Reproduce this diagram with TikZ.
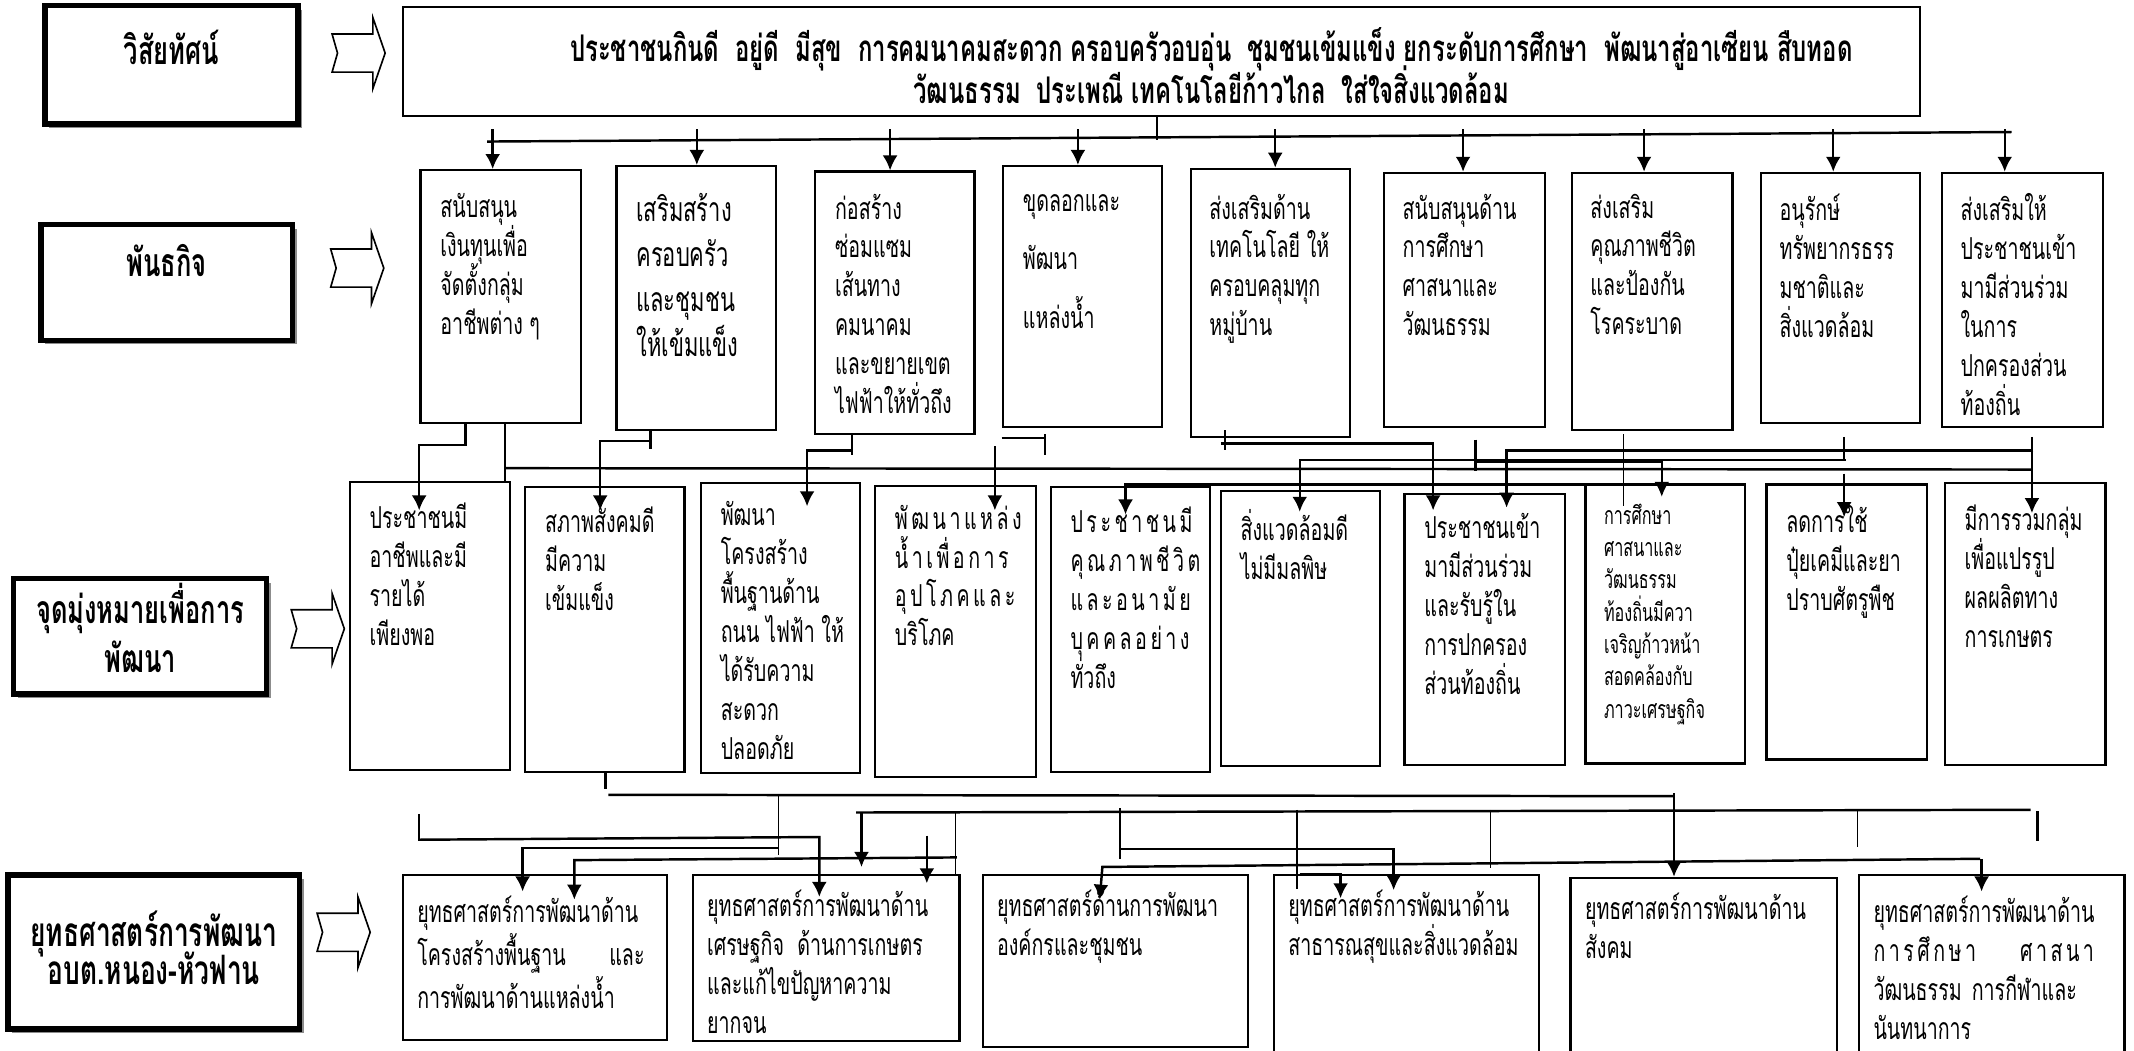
\documentclass[tikz,border=0pt]{standalone}
\usepackage{fontspec}
\newfontfamily\thai[Script=Thai,FakeStretch=0.65]{Loma}
\newcommand{\spc}[1]{{\addfontfeature{LetterSpace=11.5}#1}}
\lineskiplimit=-20pt
\usetikzlibrary{positioning,fit,shadows,arrows.meta}
\tikzset{
	pl_base/.style={font=\thai\fontsize{11.1}{14.3}\selectfont, inner sep=0pt},
	pl_box/.style={draw, rectangle, line width=0.8pt, inner sep=0pt},
	pl_head/.style={draw, rectangle, line width=2pt, inner sep=0pt, fill=white, drop shadow={shadow xshift=1.5pt, shadow yshift=-1.5pt, fill=black!45, opacity=1}},
	pl_headtext/.style={font=\thai\bfseries\fontsize{14.4}{14}\selectfont, inner sep=0pt, align=center, execute at begin node=\strut},
	pl_text/.style={pl_base, align=left, execute at begin node={\rule{0pt}{12pt}}},
	pl_big/.style={font=\thai\fontsize{12.4}{16.5}\selectfont},
	pl_small/.style={font=\thai\fontsize{9.15}{11.9}\selectfont},
	pl_wide/.style={font=\thai\fontsize{11.1}{21.5}\selectfont},
	pl_line/.style={draw=black, line width=0.9pt},
	pl_thin/.style={draw=black, line width=0.5pt},
	pl_arrow/.style={pl_line, -{Latex[length=5.5pt, width=5.5pt]}},
	pl_blockarr/.pic={\draw[line width=0.6pt] (0,-14) -- (30,-14) -- (30,-26) -- (39,0) -- (30,26) -- (30,14) -- (0,14) -- (4,0) -- cycle;}
}
\begin{document}
\begin{tikzpicture}[x=0.5pt,y=-0.5pt]
	\useasboundingbox (0,0) rectangle (1568,772);

	% left column
	\node[pl_head, fit={(33,4) (219,91)}] (vhead) {};
	\node[pl_headtext, below=9.8pt of vhead.north] (vheadt) {วิสัยทัศน์};
	\node[pl_head, fit={(30,165) (215,250)}] (mhead) {};
	\node[pl_headtext, below=8pt of mhead.north] (mheadt) {พันธกิจ};
	\node[pl_head, fit={(10,425) (196,510)}] (ghead) {};
	\node[pl_headtext, font=\thai\bfseries\fontsize{14.4}{18}\selectfont, below=2.6pt of ghead.north] (gheadt) {จุดมุ่งหมายเพื่อการ\\พัฒนา};
	\node[pl_head, fit={(6,643) (220,756)}] (shead) {};
	\node[pl_headtext, font=\thai\bfseries\fontsize{14.9}{14}\selectfont, below=14pt of shead.north] (sheadt) {ยุทธศาสตร์การพัฒนา\\อบต.หนอง-หัวฟาน};

	\pic at (244,39) {pl_blockarr};
	\pic at (243,197) {pl_blockarr};
	\pic at (214,462) {pl_blockarr};
	\pic at (233,685) {pl_blockarr};

	% vision
	\node[pl_box, fit={(296,5) (1411,85)}] (vis) {};
	\node[pl_headtext, font=\thai\bfseries\fontsize{13.5}{15.4}\selectfont, anchor=north] (vist) at (890,20) {ประชาชนกินดี~ อยู่ดี~ มีสุข~ การคมนาคมสะดวก ครอบครัวอบอุ่น~ ชุมชนเข้มแข็ง ยกระดับการศึกษา~ พัฒนาสู่อาเซียน สืบทอด\\วัฒนธรรม~ ประเพณี เทคโนโลยีก้าวไกล~ ใส่ใจสิ่งแวดล้อม};

	% missions
	\node[pl_box, fit={(309,125) (427,311)}] (m1) {};
	\node[pl_text, below right=8.9pt and 7.5pt of m1.north west] (m1t) {สนับสนุน\\เงินทุนเพื่อ\\จัดตั้งกลุ่ม\\อาชีพต่าง ๆ};
	\node[pl_box, fit={(453,122) (570,316)}] (m2) {};
	\node[pl_text, pl_big, below right=10.4pt and 7.5pt of m2.north west] (m2t) {เสริมสร้าง\\ครอบครัว\\และชุมชน\\ให้เข้มแข็ง};
	\node[pl_box, fit={(599,126) (716,319)}] (m3) {};
	\node[pl_text, below right=8.4pt and 7.5pt of m3.north west] (m3t) {ก่อสร้าง\\ซ่อมแซม\\เส้นทาง\\คมนาคม\\และขยายเขต\\ไฟฟ้าให้ทั่วถึง};
	\node[pl_box, fit={(737,122) (854,314)}] (m4) {};
	\node[pl_text, pl_wide, below right=10.65pt and 7.5pt of m4.north west] (m4t) {ขุดลอกและ\\พัฒนา\\แหล่งน้ำ};
	\node[pl_box, fit={(875,124) (992,321)}] (m5) {};
	\node[pl_text, below right=9.4pt and 7pt of m5.north west] (m5t) {ส่งเสริมด้าน\\เทคโนโลยี ให้\\ครอบคลุมทุก\\หมู่บ้าน};
	\node[pl_box, fit={(1017,127) (1135,314)}] (m6) {};
	\node[pl_text, below right=7.9pt and 7pt of m6.north west] (m6t) {สนับสนุนด้าน\\การศึกษา\\ศาสนาและ\\วัฒนธรรม};
	\node[pl_box, fit={(1155,127) (1273,316)}] (m7) {};
	\node[pl_text, below right=7.9pt and 7pt of m7.north west] (m7t) {ส่งเสริม\\คุณภาพชีวิต\\และป้องกัน\\โรคระบาด};
	\node[pl_box, fit={(1294,127) (1411,311)}] (m8) {};
	\node[pl_text, below right=7.9pt and 7pt of m8.north west] (m8t) {อนุรักษ์\\ทรัพยากรธรร\\มชาติและ\\สิ่งแวดล้อม};
	\node[pl_box, fit={(1427,127) (1545,314)}] (m9) {};
	\node[pl_text, below right=7.9pt and 7pt of m9.north west] (m9t) {ส่งเสริมให้\\ประชาชนเข้า\\มามีส่วนร่วม\\ในการ\\ปกครองส่วน\\ท้องถิ่น};

	% goals
	\node[pl_box, fit={(257,354) (375,566)}] (g1) {};
	\node[pl_text, below right=8.1pt and 7.5pt of g1.north west] (g1t) {ประชาชนมี\\อาชีพและมี\\รายได้\\เพียงพอ};
	\node[pl_box, fit={(386,358) (503,567)}] (g2) {};
	\node[pl_text, below right=7.4pt and 7.5pt of g2.north west] (g2t) {สภาพสังคมดี\\มีความ\\เข้มแข็ง};
	\node[pl_box, fit={(515,355) (632,568)}] (g3) {};
	\node[pl_text, below right=6.9pt and 7.5pt of g3.north west] (g3t) {พัฒนา\\โครงสร้าง\\พื้นฐานด้าน\\ถนน ไฟฟ้า ให้\\ได้รับความ\\สะดวก\\ปลอดภัย};
	\node[pl_box, fit={(643,357) (761,571)}] (g4) {};
	\node[pl_text, below right=7.2pt and 7.5pt of g4.north west] (g4t) {\spc{พัฒนาแหล่ง}\\\spc{น้ำเพื่อการ}\\\spc{อุปโภคและ}\\บริโภค};
	\node[pl_box, fit={(772,358) (889,567)}] (g5) {};
	\node[pl_text, below right=7.4pt and 7.5pt of g5.north west] (g5t) {\spc{ประชาชนมี}\\\spc{คุณภาพชีวิต}\\\spc{และอนามัย}\\\spc{บุคคลอย่าง}\\ทั่วถึง};
	\node[pl_box, fit={(897,361) (1014,563)}] (g6) {};
	\node[pl_text, below right=7pt and 7.5pt of g6.north west] (g6t) {สิ่งแวดล้อมดี\\ไม่มีมลพิษ};
	\node[pl_box, fit={(1032,363) (1150,562)}] (g7) {};
	\node[pl_text, below right=7.4pt and 7.5pt of g7.north west] (g7t) {ประชาชนเข้า\\มามีส่วนร่วม\\และรับรู้ใน\\การปกครอง\\ส่วนท้องถิ่น};
	\node[pl_box, fit={(1165,356) (1282,561)}] (g8) {};
	\node[pl_text, pl_small, below right=7.2pt and 7pt of g8.north west] (g8t) {การศึกษา\\ศาสนาและ\\วัฒนธรรม\\ท้องถิ่นมีควา\\เจริญก้าวหน้า\\สอดคล้องกับ\\ภาวะเศรษฐกิจ};
	\node[pl_box, fit={(1298,356) (1416,558)}] (g9) {};
	\node[pl_text, below right=7.75pt and 7.5pt of g9.north west] (g9t) {ลดการใช้\\ปุ๋ยเคมีและยา\\ปราบศัตรูพืช};
	\node[pl_box, fit={(1429,355) (1547,562)}] (g10) {};
	\node[pl_text, below right=8.35pt and 7.5pt of g10.north west] (g10t) {มีการรวมกลุ่ม\\เพื่อแปรรูป\\ผลผลิตทาง\\การเกษตร};

	% strategies
	\node[pl_box, fit={(296,643) (490,764)}] (s1) {};
	\node[pl_text, text width=83.5pt, below right=5.75pt and 5.5pt of s1.north west] (s1t) {ยุทธศาสตร์การพัฒนาด้าน\\โครงสร้างพื้นฐาน\hfill และ\\การพัฒนาด้านแหล่งน้ำ};
	\node[pl_box, fit={(509,643) (705,765)}] (s2) {};
	\node[pl_text, below right=5.75pt and 5.5pt of s2.north west] (s2t) {ยุทธศาสตร์การพัฒนาด้าน\\เศรษฐกิจ~ ด้านการเกษตร\\และแก้ไขปัญหาความ\\ยากจน};
	\node[pl_box, fit={(722,643) (917,769)}] (s3) {};
	\node[pl_text, below right=5.75pt and 5.5pt of s3.north west] (s3t) {ยุทธศาสตร์ด้านการพัฒนา\\องค์กรและชุมชน};
	\node[pl_box, fit={(936,643) (1131,790)}] (s4) {};
	\node[pl_text, below right=5.75pt and 5.5pt of s4.north west] (s4t) {ยุทธศาสตร์การพัฒนาด้าน\\สาธารณสุขและสิ่งแวดล้อม};
	\node[pl_box, fit={(1154,645) (1350,790)}] (s5) {};
	\node[pl_text, below right=5.75pt and 5.5pt of s5.north west] (s5t) {ยุทธศาสตร์การพัฒนาด้าน\\สังคม};
	\node[pl_box, fit={(1366,643) (1561,790)}] (s6) {};
	\node[pl_text, text width=81pt, below right=5.75pt and 5.5pt of s6.north west] (s6t) {ยุทธศาสตร์การพัฒนาด้าน\\\spc{การศึกษา}\hfill\spc{ศาสนา}\\วัฒนธรรม การกีฬาและ\\นันทนาการ};

	% vision -> missions
	\draw[pl_line] (850,0 |- vis.south) -- (850,103);
	\draw[pl_line] (358,104) -- (1478,97);
	\foreach \x/\m in {362/m1,512/m2,654/m3,792/m4,937/m5,1075/m6,1208/m7,1347/m8,1473/m9}
		\draw[pl_arrow] (\x,95) -- (\x,0 |- \m.north);

	% missions -> goals
	\draw[pl_arrow] (342,0 |- m1.south) |- (308,327) -- (308,375);
	\draw[pl_line] (371,0 |- m1.south) -- (371,0 |- g1.north);
	\draw[pl_line] (371,344) -- (1493,345);
	\draw[pl_line] (478,0 |- m2.south) -- (478,330);
	\draw[pl_arrow] (478,324) -| (441,375);
	\draw[pl_line] (626,0 |- m3.south) -- (626,334);
	\draw[pl_arrow] (626,331) -| (593,372);
	\draw[pl_line] (768,319) -- (768,334) (736,322) -- (768,322);
	\draw[pl_arrow] (731,328) -- (731,375);
	\draw[pl_line] (900,316) -- (900,331);
	\draw[pl_arrow] (897,326) -| (1053,375);
	\draw[pl_arrow] (1195,356) -| (827,378);
	\draw[pl_thin] (1193,319) -- (1193,372);
	\draw[pl_arrow] (1494,331) -| (1107,373);
	\draw[pl_arrow] (1356,338) -| (955,376);
	\draw[pl_line] (1084,323) -- (1084,346);
	\draw[pl_arrow] (1084,339) -| (1221,365);
	\draw[pl_line] (1355,321) -- (1355,339);
	\draw[pl_arrow] (1355,348) -- (1355,380);
	\draw[pl_arrow] (1493,321) -- (1493,377);

	% goals -> strategies
	\draw[pl_line] (445,0 |- g2.south) -- (445,580);
	\draw[pl_line] (447,584) -- (1230,585);
	\draw[pl_arrow] (1230,583) -- (1230,0 |- s5.north);
	\draw[pl_thin] (572,584) -- (572,628);
	\draw[pl_line] (308,598) -- (308,618);
	\draw[pl_arrow] (308,617) -- (602,615) -- (602,659);
	\draw[pl_arrow] (572,623) -| (384,655);
	\draw[pl_arrow] (703,630) -- (422,632) -- (422,661);
	\draw[pl_line] (629,597) -- (1492,595);
	\draw[pl_arrow] (633,597) -- (633,637);
	\draw[pl_thin] (702,596) -- (702,0 |- s2.north);
	\draw[pl_arrow] (681,614) -- (681,649);
	\draw[pl_thin] (953,595) -- (953,653);
	\draw[pl_thin] (1095,595) -- (1095,638);
	\draw[pl_thin] (1365,596) -- (1365,622);
	\draw[pl_line] (1497,596) -- (1497,618);
	\draw[pl_thin] (823,594) -- (823,631);
	\draw[pl_arrow] (824,624) -| (1024,654);
	\draw[pl_arrow] (1455,631) -- (810,637) -- (808,661);
	\draw[pl_arrow] (1456,631) -- (1456,655);
	\draw[pl_arrow] (955,642) -| (985,660);
\end{tikzpicture}
\end{document}
